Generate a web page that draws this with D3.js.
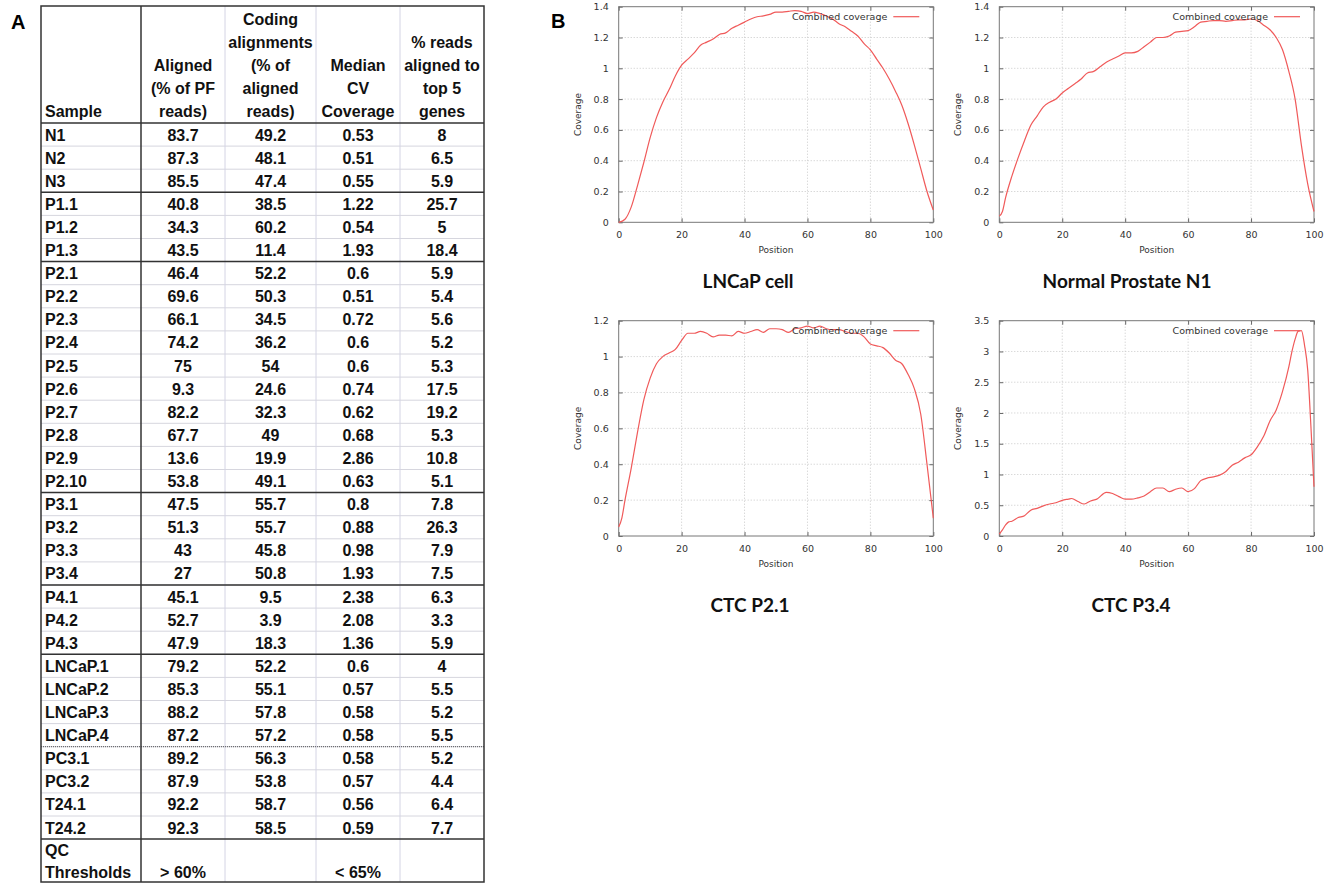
<!DOCTYPE html>
<html>
<head>
<meta charset="utf-8">
<script src="https://cdn.jsdelivr.net/npm/d3@7"></script>
<style>
  body { margin: 0; background: #fff; }
  svg { display: block; }
  .cell { font-family: Arial, "Liberation Sans", sans-serif; font-weight: bold; font-size: 16px; fill: #111; }
  .tick text { font-family: "DejaVu Sans", sans-serif; font-size: 9.5px; fill: #333; }
  .axis-label { font-family: "DejaVu Sans", sans-serif; font-size: 9px; fill: #333; }
  .legend { font-family: "DejaVu Sans", sans-serif; font-size: 9.5px; fill: #333; }
  .panel-title { font-family: Lato, "Open Sans", sans-serif; font-weight: bold; font-size: 19px; fill: #111; }
  .panel-letter { font-family: Arial, "Liberation Sans", sans-serif; font-weight: bold; font-size: 20px; }
</style>
</head>
<body>
<svg id="fig" width="1334" height="883"></svg>
<script>
// ---- Table data (panel A) ----
const headers = [
  ["Sample"],
  ["Aligned", "(% of PF", "reads)"],
  ["Coding", "alignments", "(% of", "aligned", "reads)"],
  ["Median", "CV", "Coverage"],
  ["% reads", "aligned to", "top 5", "genes"]
];
const samples = ["N1","N2","N3","P1.1","P1.2","P1.3","P2.1","P2.2","P2.3","P2.4","P2.5","P2.6","P2.7","P2.8","P2.9","P2.10",
  "P3.1","P3.2","P3.3","P3.4","P4.1","P4.2","P4.3","LNCaP.1","LNCaP.2","LNCaP.3","LNCaP.4","PC3.1","PC3.2","T24.1","T24.2"];
const aligned = ["83.7","87.3","85.5","40.8","34.3","43.5","46.4","69.6","66.1","74.2","75","9.3","82.2","67.7","13.6","53.8",
  "47.5","51.3","43","27","45.1","52.7","47.9","79.2","85.3","88.2","87.2","89.2","87.9","92.2","92.3"];
const coding = ["49.2","48.1","47.4","38.5","60.2","11.4","52.2","50.3","34.5","36.2","54","24.6","32.3","49","19.9","49.1",
  "55.7","55.7","45.8","50.8","9.5","3.9","18.3","52.2","55.1","57.8","57.2","56.3","53.8","58.7","58.5"];
const medianCV = ["0.53","0.51","0.55","1.22","0.54","1.93","0.6","0.51","0.72","0.6","0.6","0.74","0.62","0.68","2.86","0.63",
  "0.8","0.88","0.98","1.93","2.38","2.08","1.36","0.6","0.57","0.58","0.58","0.58","0.57","0.56","0.59"];
const topGenes = ["8","6.5","5.9","25.7","5","18.4","5.9","5.4","5.6","5.2","5.3","17.5","19.2","5.3","10.8","5.1",
  "7.8","26.3","7.9","7.5","6.3","3.3","5.9","4","5.5","5.2","5.5","5.2","4.4","6.4","7.7"];
const qcThresholds = ["", "> 60%", "", "< 65%", ""];
const groupEnds = [2, 5, 15, 19, 22, 30];   // rows followed by a dark rule
const dottedEnds = [26];                     // rows followed by a dotted rule

// ---- Coverage curves (panel B) : [position, coverage] ----
const lncapCoverage = [[0,0],[2,0.02],[4,0.1],[6,0.24],[8,0.39],[10,0.55],[12,0.68],[14,0.78],[16,0.86],[18,0.95],
  [20,1.02],[22,1.06],[24,1.1],[26,1.15],[28,1.17],[30,1.19],[32,1.22],[34,1.23],[36,1.26],[38,1.28],[40,1.3],
  [42,1.32],[44,1.335],[46,1.34],[48,1.35],[50,1.365],[52,1.365],[54,1.37],[56,1.375],[58,1.37],[60,1.355],
  [62,1.365],[64,1.355],[66,1.34],[68,1.32],[70,1.29],[72,1.27],[74,1.24],[76,1.21],[78,1.16],[80,1.12],
  [82,1.06],[84,1.0],[86,0.93],[88,0.85],[90,0.76],[92,0.64],[94,0.5],[96,0.35],[98,0.2],[100,0.08]];
const normalCoverage = [[0,0.04],[1,0.07],[2,0.16],[4,0.3],[6,0.42],[8,0.53],[10,0.63],[12,0.69],[14,0.75],[16,0.78],
  [18,0.8],[20,0.84],[22,0.87],[24,0.9],[26,0.93],[28,0.97],[30,0.98],[32,1.01],[34,1.04],[36,1.06],[38,1.08],
  [40,1.1],[42,1.1],[44,1.11],[46,1.14],[48,1.17],[50,1.2],[52,1.2],[54,1.21],[56,1.235],[58,1.24],[60,1.245],
  [62,1.27],[64,1.3],[66,1.305],[68,1.31],[70,1.31],[72,1.305],[74,1.31],[76,1.315],[78,1.315],[80,1.32],
  [82,1.31],[84,1.28],[86,1.25],[88,1.2],[90,1.12],[92,0.98],[94,0.8],[96,0.5],[98,0.25],[100,0.07]];
const p21Coverage = [[0,0.05],[1,0.1],[2,0.2],[4,0.38],[6,0.58],[8,0.76],[10,0.88],[12,0.96],[14,1.0],[16,1.02],
  [18,1.04],[20,1.09],[22,1.13],[24,1.13],[26,1.14],[28,1.13],[30,1.11],[32,1.12],[34,1.12],[36,1.115],[38,1.14],
  [40,1.13],[42,1.14],[44,1.15],[46,1.135],[48,1.155],[50,1.155],[52,1.15],[54,1.135],[56,1.155],[58,1.16],
  [60,1.17],[62,1.16],[64,1.17],[66,1.155],[68,1.15],[70,1.15],[72,1.14],[74,1.13],[76,1.13],[78,1.11],[80,1.07],
  [82,1.06],[84,1.05],[86,1.02],[88,0.98],[90,0.96],[92,0.9],[94,0.82],[96,0.68],[98,0.4],[100,0.1]];
const p34Coverage = [[0,0.03],[1,0.1],[2,0.18],[3,0.23],[4,0.24],[6,0.3],[8,0.33],[10,0.42],[12,0.45],[14,0.49],
  [16,0.52],[18,0.54],[20,0.58],[22,0.6],[23,0.61],[25,0.56],[27,0.52],[29,0.57],[31,0.6],[34,0.71],[36,0.69],
  [38,0.64],[40,0.6],[42,0.6],[44,0.62],[46,0.65],[48,0.72],[50,0.78],[52,0.78],[54,0.72],[56,0.76],[58,0.78],
  [60,0.72],[62,0.77],[64,0.9],[66,0.94],[68,0.96],[70,0.99],[72,1.05],[74,1.15],[76,1.2],[78,1.27],[80,1.32],
  [82,1.45],[84,1.62],[86,1.87],[88,2.05],[90,2.35],[92,2.75],[93,3.0],[94,3.2],[95,3.33],[96,3.34],[97,3.1],
  [98,2.7],[99,1.8],[100,0.8]];
const xTicks = [0, 20, 40, 60, 80, 100];

const svg = d3.select("#fig");

// ================= Panel A: table =================
svg.append("text").attr("class", "panel-letter").attr("x", 11).attr("y", 29).text("A");

const colX = [41, 141, 225, 316, 400, 484];
const headTop = 6, headBottom = 123, rowH = 23.1;
const rowTop = i => headBottom + i * rowH;
const bodyBottom = rowTop(samples.length);
const tableBottom = 882;

const rows = samples.map((s, i) => [s, aligned[i], coding[i], medianCV[i], topGenes[i]]);
const table = svg.append("g");

// light row rules
table.selectAll("line.row").data(d3.range(1, samples.length))
  .join("line")
  .attr("x1", colX[0]).attr("x2", colX[5])
  .attr("y1", i => rowTop(i)).attr("y2", i => rowTop(i))
  .attr("stroke", "#d6d6de").attr("stroke-width", 1);

// light column rules
table.selectAll("line.col").data(colX.slice(2, 5))
  .join("line")
  .attr("x1", d => d).attr("x2", d => d)
  .attr("y1", headTop).attr("y2", tableBottom)
  .attr("stroke", "#d4d4e4").attr("stroke-width", 1);

// dotted group rules
dottedEnds.forEach(i => {
  table.append("line")
    .attr("x1", colX[0]).attr("x2", colX[5])
    .attr("y1", rowTop(i + 1)).attr("y2", rowTop(i + 1))
    .attr("stroke", "#555").attr("stroke-width", 1).attr("stroke-dasharray", "1,1");
});

// dark group rules
[headBottom, ...groupEnds.map(i => rowTop(i + 1))].forEach(y => {
  table.append("line")
    .attr("x1", colX[0]).attr("x2", colX[5])
    .attr("y1", y).attr("y2", y)
    .attr("stroke", "#333").attr("stroke-width", 1.5);
});

// dark first column rule + border
table.append("line")
  .attr("x1", colX[1]).attr("x2", colX[1]).attr("y1", headTop).attr("y2", tableBottom)
  .attr("stroke", "#333").attr("stroke-width", 1.5);
table.append("rect")
  .attr("x", colX[0]).attr("y", headTop)
  .attr("width", colX[5] - colX[0]).attr("height", tableBottom - headTop)
  .attr("fill", "none").attr("stroke", "#333").attr("stroke-width", 1.5);

// header text
headers.forEach((lines, c) => {
  const n = lines.length;
  lines.forEach((t, k) => {
    table.append("text").attr("class", "cell")
      .attr("x", c === 0 ? colX[0] + 4 : (colX[c] + colX[c + 1]) / 2)
      .attr("text-anchor", c === 0 ? "start" : "middle")
      .attr("y", 117 - (n - 1 - k) * 23)
      .text(t);
  });
});

// body text
rows.forEach((r, i) => {
  r.forEach((v, c) => {
    table.append("text").attr("class", "cell")
      .attr("x", c === 0 ? colX[0] + 4 : (colX[c] + colX[c + 1]) / 2)
      .attr("text-anchor", c === 0 ? "start" : "middle")
      .attr("y", rowTop(i) + 17.5)
      .text(v);
  });
});

// QC row
table.append("text").attr("class", "cell").attr("x", colX[0] + 4).attr("y", bodyBottom + 17).text("QC");
table.append("text").attr("class", "cell").attr("x", colX[0] + 4).attr("y", bodyBottom + 39).text("Thresholds");
qcThresholds.forEach((t, c) => {
  if (!t) return;
  table.append("text").attr("class", "cell")
    .attr("x", (colX[c] + colX[c + 1]) / 2).attr("text-anchor", "middle")
    .attr("y", bodyBottom + 39).text(t);
});

// ================= Panel B: coverage plots =================
svg.append("text").attr("class", "panel-letter").attr("x", 551).attr("y", 28).text("B");

const panels = [
  { title: "LNCaP cell", data: lncapCoverage, ymax: 1.4, ystep: 0.2, left: 618.7, right: 933.3, top: 6.7, bottom: 222.3, tx: 748, ty: 288 },
  { title: "Normal Prostate N1", data: normalCoverage, ymax: 1.4, ystep: 0.2, left: 999.3, right: 1314, top: 6.7, bottom: 222.3, tx: 1127, ty: 288 },
  { title: "CTC P2.1", data: p21Coverage, ymax: 1.2, ystep: 0.2, left: 618.7, right: 933.3, top: 320.7, bottom: 536, tx: 750, ty: 612 },
  { title: "CTC P3.4", data: p34Coverage, ymax: 3.5, ystep: 0.5, left: 999.3, right: 1314, top: 320.7, bottom: 536, tx: 1131, ty: 612 }
];

panels.forEach(p => {
  const x = d3.scaleLinear().domain([0, 100]).range([p.left, p.right]);
  const y = d3.scaleLinear().domain([0, p.ymax]).range([p.bottom, p.top]);
  const yTicks = d3.range(0, p.ymax + 1e-9, p.ystep).map(v => +v.toFixed(2));
  const g = svg.append("g");

  // grid
  g.selectAll("line.gx").data(xTicks.slice(1, -1)).join("line")
    .attr("x1", d => x(d)).attr("x2", d => x(d)).attr("y1", p.top).attr("y2", p.bottom)
    .attr("stroke", "#c8c8c8").attr("stroke-width", 1).attr("stroke-dasharray", "1,2");
  g.selectAll("line.gy").data(yTicks.slice(1, -1)).join("line")
    .attr("x1", p.left).attr("x2", p.right).attr("y1", d => y(d)).attr("y2", d => y(d))
    .attr("stroke", "#c8c8c8").attr("stroke-width", 1).attr("stroke-dasharray", "1,2");

  // axes (gnuplot-style inward ticks on all sides)
  const fmt = d => (d === 0 ? "0" : d3.format("~g")(d));
  g.append("g").attr("transform", `translate(0,${p.bottom})`)
    .call(d3.axisBottom(x).tickValues(xTicks).tickSizeInner(-4).tickSizeOuter(0).tickPadding(9).tickFormat(fmt))
    .call(a => a.select(".domain").remove());
  g.append("g").attr("transform", `translate(0,${p.top})`)
    .call(d3.axisTop(x).tickValues(xTicks).tickSizeInner(-4).tickSizeOuter(0).tickFormat(""))
    .call(a => a.select(".domain").remove());
  g.append("g").attr("transform", `translate(${p.left},0)`)
    .call(d3.axisLeft(y).tickValues(yTicks).tickSizeInner(-4).tickSizeOuter(0).tickPadding(10).tickFormat(fmt))
    .call(a => a.select(".domain").remove());
  g.append("g").attr("transform", `translate(${p.right},0)`)
    .call(d3.axisRight(y).tickValues(yTicks).tickSizeInner(-4).tickSizeOuter(0).tickFormat(""))
    .call(a => a.select(".domain").remove());
  g.selectAll(".tick line").attr("stroke", "#666");

  g.append("rect")
    .attr("x", p.left).attr("y", p.top).attr("width", p.right - p.left).attr("height", p.bottom - p.top)
    .attr("fill", "none").attr("stroke", "#777").attr("stroke-width", 1);

  // axis labels
  g.append("text").attr("class", "axis-label")
    .attr("x", (p.left + p.right) / 2).attr("y", p.bottom + 31).attr("text-anchor", "middle").text("Position");
  g.append("text").attr("class", "axis-label")
    .attr("transform", `translate(${p.left - 38},${(p.top + p.bottom) / 2}) rotate(-90)`)
    .attr("text-anchor", "middle").text("Coverage");

  // curve
  g.append("path").datum(p.data)
    .attr("d", d3.line().x(d => x(d[0])).y(d => y(d[1])).curve(d3.curveMonotoneX))
    .attr("fill", "none").attr("stroke", "#f05a5a").attr("stroke-width", 1.2);

  // legend
  g.append("text").attr("class", "legend")
    .attr("x", p.right - 46).attr("y", p.top + 13).attr("text-anchor", "end").text("Combined coverage");
  g.append("line")
    .attr("x1", p.right - 40).attr("x2", p.right - 14).attr("y1", p.top + 10).attr("y2", p.top + 10)
    .attr("stroke", "#f05a5a").attr("stroke-width", 1.2);

  // panel title
  svg.append("text").attr("class", "panel-title")
    .attr("x", p.tx).attr("y", p.ty).attr("text-anchor", "middle").text(p.title);
});
</script>
</body>
</html>
